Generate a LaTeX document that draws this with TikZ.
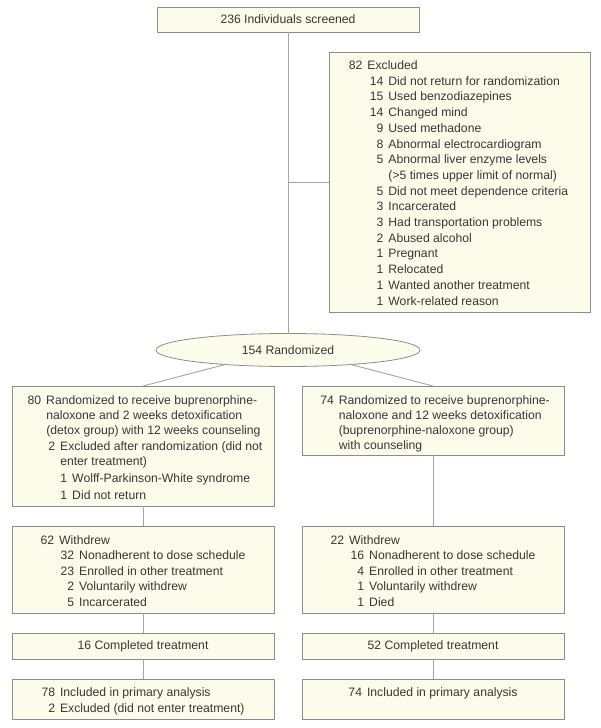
\documentclass[tikz,border=0pt]{standalone}
\usepackage{fontspec}
\setmainfont{Liberation Sans}
\usetikzlibrary{shapes.geometric,calc}
\definecolor{boxfill}{RGB}{252,252,234}
\definecolor{boxline}{RGB}{140,140,140}
\definecolor{connc}{RGB}{165,165,165}
\definecolor{txtc}{RGB}{55,55,55}
\newlength\numw
\setlength\numw{13.6pt}
\newcommand\fcitem[3]{\hspace*{#1}\makebox[\numw][r]{#2}\hspace{5pt}#3}
\newcommand\fccont[2]{\hspace*{\dimexpr#1+\numw+5pt\relax}#2}
\newcommand\fcfont{\fontsize{12.2}{15.5}\selectfont}
\begin{document}
\begin{tikzpicture}[x=1pt,y=-1pt,
  box/.style={rectangle, draw=boxline, fill=boxfill, line width=0.8pt,
    minimum width=262pt, inner sep=0pt, outer sep=0pt, text=txtc, font=\fcfont},
  lines/.style={inner sep=0pt, align=left, anchor=north, text=txtc, font=\fcfont},
  conn/.style={draw=connc, line width=0.9pt}]
\useasboundingbox (0,0) rectangle (601,728);
% boxes
\node[box, minimum height=25pt] (top) at (288,19.5) {236 Individuals screened};
\node[box, minimum width=261pt, minimum height=260pt] (excl) at (459.5,182) {};
\node[ellipse, draw=boxline, fill=boxfill, line width=0.8pt, minimum width=264pt,
  minimum height=33pt, inner sep=0pt, outer sep=0pt, text=txtc, font=\fcfont]
  (ell) at (288,350) {154 Randomized};
\node[box, minimum height=120pt] (lbox) at (143,446) {};
\node[box, minimum height=69pt] (rbox) at (433,420.5) {};
\node[box, minimum height=87pt] (lw) at (143,569.5) {};
\node[box, minimum height=87pt] (rw) at (433,569.5) {};
\node[box, minimum height=26pt] (lc) at (143,646) {16 Completed treatment};
\node[box, minimum height=26pt] (rc) at (433,646) {52 Completed treatment};
\node[box, minimum height=40pt] (li) at (143,699) {};
\node[box, minimum height=40pt] (ri) at (433,699) {};
% texts
\node[lines, font={\fontsize{12.2}{15.7}\selectfont}, yshift=-8.5pt, xshift=-1pt] (excltxt) at (excl.north) {%
\fcitem{0pt}{82}{Excluded}\\
\fcitem{21pt}{14}{Did not return for randomization}\\
\fcitem{21pt}{15}{Used benzodiazepines}\\
\fcitem{21pt}{14}{Changed mind}\\
\fcitem{21pt}{9}{Used methadone}\\
\fcitem{21pt}{8}{Abnormal electrocardiogram}\\
\fcitem{21pt}{5}{Abnormal liver enzyme levels}\\
\fccont{21pt}{(>5 times upper limit of normal)}\\
\fcitem{21pt}{5}{Did not meet dependence criteria}\\
\fcitem{21pt}{3}{Incarcerated}\\
\fcitem{21pt}{3}{Had transportation problems}\\
\fcitem{21pt}{2}{Abused alcohol}\\
\fcitem{21pt}{1}{Pregnant}\\
\fcitem{21pt}{1}{Relocated}\\
\fcitem{21pt}{1}{Wanted another treatment}\\
\fcitem{21pt}{1}{Work-related reason}};
\node[lines, font={\fontsize{12.2}{15}\selectfont}, yshift=-9pt, xshift=2pt] (ltxt) at (lbox.north) {%
\fcitem{0pt}{80}{Randomized to receive buprenorphine-}\\
\fccont{0pt}{naloxone and 2 weeks detoxification}\\
\fccont{0pt}{(detox group) with 12 weeks counseling}\\[1.7pt]
\fcitem{14pt}{2}{Excluded after randomization (did not}\\
\fccont{14pt}{enter treatment)}\\[1.7pt]
\fcitem{26pt}{1}{Wolff-Parkinson-White syndrome}\\[1.7pt]
\fcitem{26pt}{1}{Did not return}};
\node[lines, font={\fontsize{12.2}{15}\selectfont}, yshift=-9pt, xshift=2pt] (rtxt) at (rbox.north) {%
\fcitem{0pt}{74}{Randomized to receive buprenorphine-}\\
\fccont{0pt}{naloxone and 12 weeks detoxification}\\
\fccont{0pt}{(buprenorphine-naloxone group)}\\
\fccont{0pt}{with counseling}};
\node[lines, yshift=-9pt] (lwtxt) at (lw.north) {%
\fcitem{0pt}{62}{Withdrew}\\
\fcitem{20pt}{32}{Nonadherent to dose schedule}\\
\fcitem{20pt}{23}{Enrolled in other treatment}\\
\fcitem{20pt}{2}{Voluntarily withdrew}\\
\fcitem{20pt}{5}{Incarcerated}};
\node[lines, yshift=-9pt] (rwtxt) at (rw.north) {%
\fcitem{0pt}{22}{Withdrew}\\
\fcitem{20pt}{16}{Nonadherent to dose schedule}\\
\fcitem{20pt}{4}{Enrolled in other treatment}\\
\fcitem{20pt}{1}{Voluntarily withdrew}\\
\fcitem{20pt}{1}{Died}};
\node[lines, yshift=-8.5pt] (litxt) at (li.north) {%
\fcitem{0pt}{78}{Included in primary analysis}\\
\fcitem{0pt}{2}{Excluded (did not enter treatment)}};
\node[lines, yshift=-8.5pt] (ritxt) at (ri.north) {%
\fcitem{0pt}{74}{Included in primary analysis}};
% connectors
\coordinate (split) at (top.south |- excl.west);
\draw[conn] (top.south) -- (ell.north);
\draw[conn] (split) -- (excl.west);
\draw[conn] (ell.193) -- (lbox.north);
\draw[conn] (ell.347) -- (rbox.north);
\draw[conn] (lbox.south) -- (lw.north);
\draw[conn] (lw.south) -- (lc.north);
\draw[conn] (lc.south) -- (li.north);
\draw[conn] (rbox.south) -- (rw.north);
\draw[conn] (rw.south) -- (rc.north);
\draw[conn] (rc.south) -- (ri.north);
\end{tikzpicture}
\end{document}
